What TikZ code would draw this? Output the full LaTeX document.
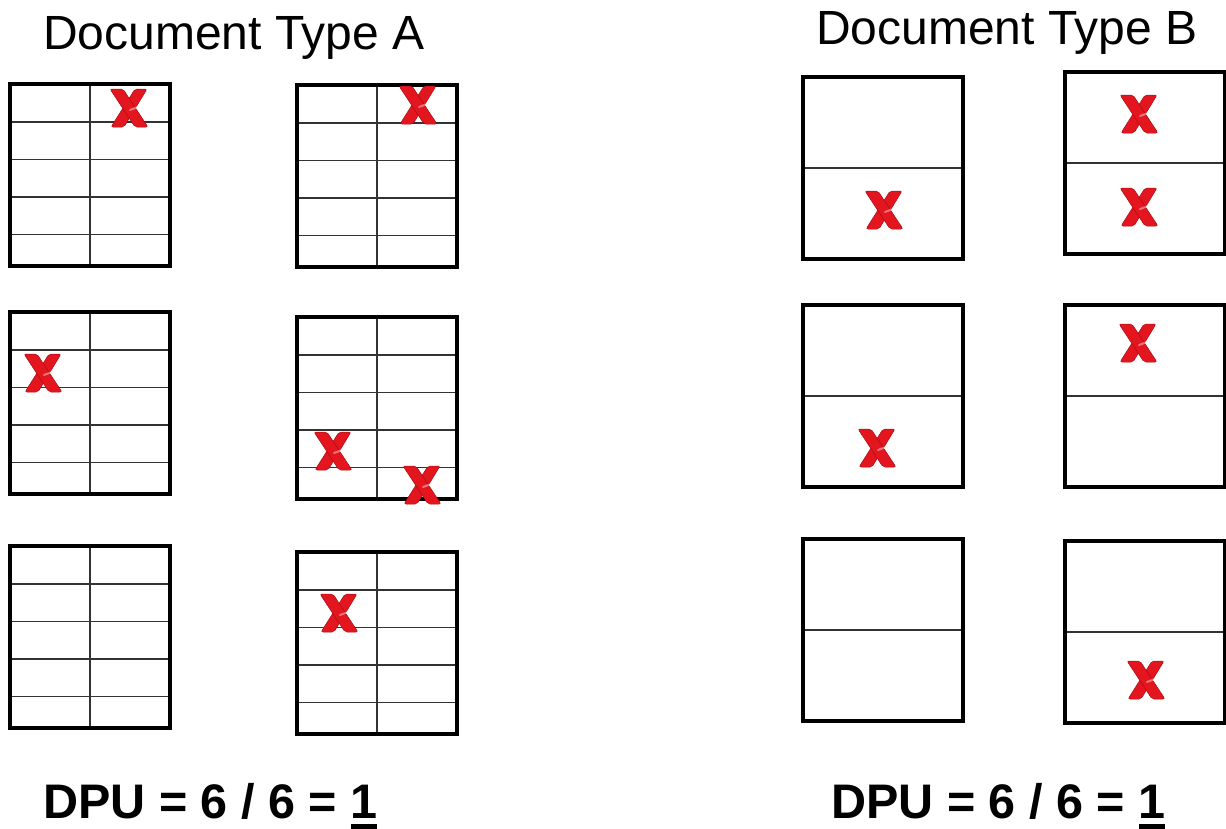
\documentclass[tikz,border=0pt]{standalone}
\usepackage{fontspec}
\setmainfont{Liberation Sans}
\usepackage{xcolor}
\definecolor{cFrame}{HTML}{000000}
\definecolor{cGrid}{HTML}{333333}
\definecolor{cMark}{HTML}{E3161F}
\definecolor{cMarkDark}{HTML}{A80C12}
\usepackage{tikz}
\usetikzlibrary{positioning}
% thick underline under the result
\newcommand{\ulnum}[1]{\makebox[0pt][l]{#1}\rule[-0.24em]{0.556em}{0.12em}}
\tikzset{
  doc-frame/.style={draw=cFrame,line width=3.2pt},
  doc-grid/.style={draw=cGrid,line width=1.4pt},
  title-text/.style={inner sep=0pt,anchor=base west,font=\fontsize{48}{56}\selectfont},
  dpu-text/.style={inner sep=0pt,anchor=base west,font=\fontsize{48.5}{58}\selectfont\bfseries},
  pics/doc-a/.style={code={
    \draw[doc-grid] (80,0) -- (80,182);
    \foreach \r in {38,75.5,113,150.5} \draw[doc-grid] (0,\r) -- (160,\r);
    \draw[doc-frame] (0,0) rectangle (160,182);
  }},
  pics/doc-b/.style={code={
    \draw[doc-grid] (0,91) -- (160,91);
    \draw[doc-frame] (0,0) rectangle (160,182);
  }},
  pics/mark-x/.style={code={
    \filldraw[fill=cMark,draw=cMarkDark,line width=0.5pt,rounded corners=2pt]
      (6,-19) -- (18,-19) -- (-5,19) -- (-18,19) -- cycle;
    \filldraw[fill=cMark,draw=cMarkDark,line width=0.5pt,rounded corners=2pt]
      (-19,-19) -- (-6,-19) -- (19,19) -- (6,19) -- cycle;
    \draw[white,opacity=0.4,line width=2pt,line cap=round] (1,2) -- (9,-1);
  }},
}

\begin{document}
\begin{tikzpicture}[x=1pt,y=-1pt]
  \useasboundingbox (0,0) rectangle (1226,828);
  % titles
  \node[title-text] (titleA) at (43,49) {Document Type A};
  \node[title-text] (titleB) at (816,44) {Document Type B};
  % type A documents
  \pic at (10,84)  {doc-a};
  \pic at (297,85) {doc-a};
  \pic at (10,312) {doc-a};
  \pic at (297,317) {doc-a};
  \pic at (10,546) {doc-a};
  \pic at (297,552) {doc-a};
  % type B documents
  \pic at (803,77)  {doc-b};
  \pic at (1065,72) {doc-b};
  \pic at (803,305) {doc-b};
  \pic at (1065,305) {doc-b};
  \pic at (803,539) {doc-b};
  \pic at (1065,541) {doc-b};
  % defects
  \foreach \p in {(129,108),(418,105),(43,373),(333,451),(422,485),(339,613),
                  (884,210),(1139,114),(1139,207),(877,448),(1138,343),(1146,680)}
    \pic at \p {mark-x};
  % results
  \node[dpu-text] (dpuA) at (43,818) {DPU = 6 / 6 = \ulnum{1}};
  \node[dpu-text] (dpuB) at (831,818) {DPU = 6 / 6 = \ulnum{1}};
\end{tikzpicture}
\end{document}
